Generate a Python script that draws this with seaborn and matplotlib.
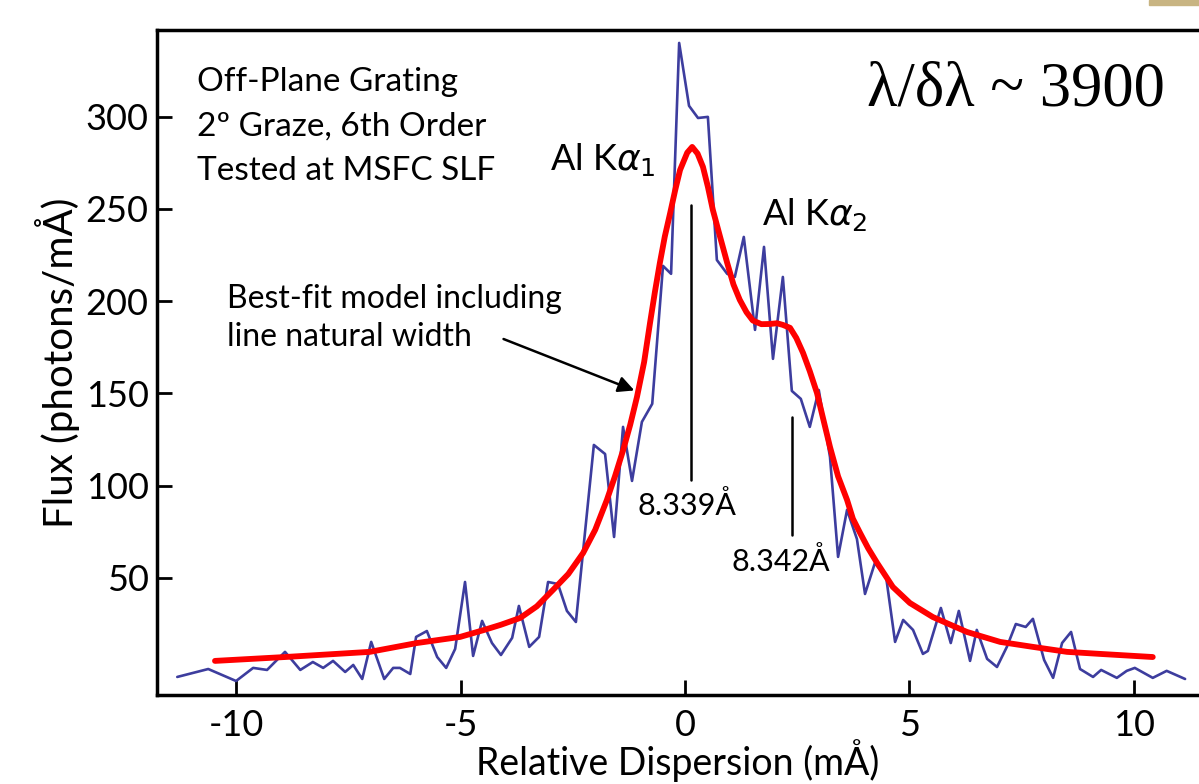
import numpy as np
import pandas as pd
import matplotlib
matplotlib.use("Agg")
import matplotlib.pyplot as plt
import seaborn as sns

# measured spectrum (relative dispersion in mA, flux in photons/mA)
disp = [-11.31, -10.62, -10.00, -9.62, -9.31, -8.91, -8.57, -8.29, -8.06, -7.84,
        -7.57, -7.39, -7.19, -6.99, -6.70, -6.50, -6.35, -6.12, -5.99, -5.75,
        -5.52, -5.32, -5.12, -4.90, -4.72, -4.52, -4.30, -4.10, -3.85, -3.70,
        -3.47, -3.25, -3.05, -2.83, -2.63, -2.43, -2.03, -1.78, -1.58, -1.38,
        -1.18, -0.96, -0.73, -0.49, -0.31, -0.13, 0.09, 0.29, 0.51, 0.71,
        0.94, 1.11, 1.31, 1.56, 1.76, 1.96, 2.18, 2.38, 2.58, 2.78,
        2.98, 3.23, 3.41, 3.61, 3.83, 4.01, 4.23, 4.48, 4.68, 4.86,
        5.08, 5.30, 5.41, 5.70, 5.92, 6.10, 6.35, 6.50, 6.73, 6.95,
        7.17, 7.37, 7.59, 7.75, 8.00, 8.20, 8.40, 8.60, 8.80, 9.09,
        9.27, 9.62, 9.84, 10.02, 10.42, 10.73, 11.14]
flux = [-3.8, 0.5, -6.0, 1.1, 0.0, 9.8, 0.0, 4.3, 1.1, 4.9,
        -1.1, 2.7, -4.9, 15.2, -4.9, 1.1, 1.1, -2.2, 17.9, 21.1,
        7.0, 1.1, 11.4, 47.7, 7.6, 26.6, 14.6, 8.1, 17.4, 34.7,
        12.5, 17.9, 47.7, 46.6, 32.0, 26.0, 122.0, 117.1, 72.1, 131.8,
        102.5, 134.5, 144.3, 219.1, 214.8, 340.0, 305.9, 299.3, 299.9, 222.3,
        214.8, 213.1, 234.8, 184.4, 229.4, 168.7, 213.1, 151.3, 147.0, 131.8,
        151.8, 115.5, 61.3, 86.8, 71.0, 41.2, 58.0, 50.4, 15.2, 27.1,
        21.7, 8.7, 10.3, 33.6, 14.6, 32.0, 4.9, 21.7, 6.0, 1.6,
        12.5, 24.9, 23.3, 27.7, 5.4, -4.3, 14.6, 20.6, 0.5, -3.8,
        0.0, -4.3, -0.5, 1.1, -4.3, -0.5, -4.9]

# best-fit model
model_x = [-10.47, -8.91, -7.02, -5.97, -5.01, -4.50, -4.10, -3.67, -3.30, -2.94,
           -2.60, -2.27, -2.00, -1.74, -1.56, -1.38, -1.22, -1.07, -0.91, -0.78,
           -0.67, -0.56, -0.45, -0.33, -0.22, -0.11, 0.05, 0.16, 0.28, 0.40,
           0.51, 0.62, 0.78, 0.94, 1.08, 1.22, 1.37, 1.51, 1.70, 1.89,
           2.05, 2.18, 2.34, 2.48, 2.63, 2.78, 2.94, 3.07, 3.23, 3.41,
           3.61, 3.74, 3.90, 4.08, 4.28, 4.63, 5.01, 5.52, 6.28, 7.02,
           7.75, 8.51, 9.24, 10.42]
model_y = [4.9, 7.0, 9.8, 14.6, 17.9, 21.5, 24.5, 28.2, 34.5, 43.4,
           52.0, 63.4, 76.0, 92.2, 105.0, 119.0, 133.0, 148.0, 167.0, 188.0,
           205.0, 220.7, 235.0, 247.8, 260.0, 271.1, 280.5, 283.6, 280.0, 272.8,
           262.0, 249.5, 235.0, 220.7, 209.0, 200.7, 194.0, 189.5, 187.5, 187.6,
           188.0, 187.1, 185.5, 180.0, 171.9, 162.0, 150.2, 137.0, 120.9, 105.0,
           92.2, 82.0, 74.3, 66.0, 58.0, 45.0, 36.3, 28.7, 20.6, 15.2,
           12.5, 9.8, 8.7, 7.0]

x_ticks = [-10, -5, 0, 5, 10]
y_ticks = [50, 100, 150, 200, 250, 300]

spec = pd.DataFrame({"disp": disp, "flux": flux})
fit = pd.DataFrame({"disp": model_x, "flux": model_y})

sns.set_style("ticks", {"text.color": "black", "axes.labelcolor": "black",
                        "xtick.color": "black", "ytick.color": "black",
                        "axes.edgecolor": "black"})
plt.rcParams["font.family"] = ["Lato", "DejaVu Sans"]
plt.rcParams["axes.unicode_minus"] = False

fig = plt.figure(figsize=(11.99, 7.84), dpi=100)
ax = fig.add_axes([0.131, 0.1135, 0.869, 0.8482])

sns.lineplot(data=spec, x="disp", y="flux", ax=ax, color="#3d3d9e", linewidth=1.9)
sns.lineplot(data=fit, x="disp", y="flux", ax=ax, color="#ff0000", linewidth=4.2)

ax.set_xlim(-11.76, 11.45)
ax.set_ylim(-13.6, 347)
ax.set_xticks(x_ticks)
ax.set_yticks(y_ticks)
ax.tick_params(direction="in", length=11, width=2, labelsize=26)
ax.tick_params(axis="x", pad=10)
ax.tick_params(axis="y", pad=6)
for s in ["left", "top", "bottom"]:
    ax.spines[s].set_linewidth(2.5)
ax.spines["right"].set_visible(False)

ax.set_xlabel("Relative Dispersion (mÅ)", fontsize=27, labelpad=-2)
ax.set_ylabel("Flux (photons/mÅ)", fontsize=29, labelpad=4)

# annotations
ax.text(-10.88, 327, "Off-Plane Grating\n2º Graze, 6th Order\nTested at MSFC SLF",
        fontsize=24, va="top", ha="left", linespacing=1.6)
ax.text(10.69, 314, "λ/δλ ~ 3900", fontsize=45, ha="right", va="center",
        family="Liberation Serif")
ax.text(-1.83, 277, r"Al K$\alpha_1$", fontsize=26, ha="center", va="center")
ax.text(2.9, 247, r"Al K$\alpha_2$", fontsize=26, ha="center", va="center")
ax.text(-10.2, 191, "Best-fit model including\nline natural width",
        fontsize=23, ha="left", va="center", linespacing=1.35)
ax.annotate("", xy=(-1.07, 151), xytext=(-4.1, 180),
            arrowprops=dict(arrowstyle="-|>", color="black", lw=1.8,
                            mutation_scale=24))

ax.plot([0.13, 0.13], [103, 252], color="black", lw=1.8)
ax.text(0.04, 89, "8.339Å", fontsize=22, ha="center", va="center")
ax.plot([2.38, 2.38], [73, 137], color="black", lw=1.8)
ax.text(2.14, 59, "8.342Å", fontsize=22, ha="center", va="center")

fig.patches.append(plt.Rectangle((0.958, 0.993), 0.042, 0.007, transform=fig.transFigure,
                                 color="#c8b482", zorder=5))

fig.savefig("out.png", dpi=100)
